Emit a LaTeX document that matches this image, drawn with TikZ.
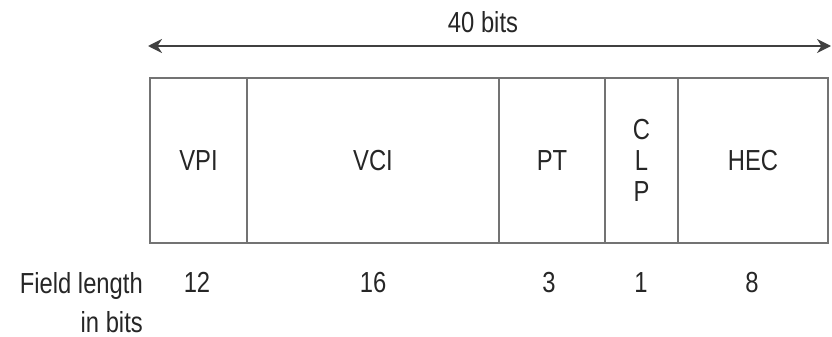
\documentclass[tikz,border=0pt]{standalone}
\usepackage{fontspec}
\setmainfont[FakeStretch=0.82]{Liberation Sans}
\usetikzlibrary{arrows.meta}
\begin{document}
\begin{tikzpicture}[x=1pt,y=-1pt,
  txt/.style={text=black!85,font=\fontsize{29}{31}\selectfont,inner sep=0pt},
  cell/.style={draw=black!55,line width=1.3pt,minimum height=165pt,inner sep=0pt,txt},
  span/.style={black!75,line width=2.2pt,{Stealth[length=14pt,width=14pt]}-{Stealth[length=14pt,width=14pt]}}]
\useasboundingbox (0,0) rectangle (832,337);
% cells
\node[cell,minimum width=97pt]  (vpi) at (198.5,160.5) {VPI};
\node[cell,minimum width=252pt] (vci) at (373,160.5) {VCI};
\node[cell,minimum width=106pt] (pt)  at (552,160.5) {PT};
\node[cell,minimum width=73pt,align=center] (clp) at (641.5,160.5) {C\\L\\P};
\node[cell,minimum width=150pt] (hec) at (753,160.5) {HEC};
% total width arrow
\coordinate (al) at (148,46);
\coordinate (ar) at (831,46);
\draw[span] (al) -- (ar);
\node[txt] (tot) at (483,22) {40 bits};
% field lengths
\node[txt,anchor=base east,align=right] (fl) at (143,332) {Field length\\[8pt]in bits};
\node[txt,anchor=base] (n1) at (197,292) {12};
\node[txt,anchor=base] (n2) at (373,292) {16};
\node[txt,anchor=base] (n3) at (549,292) {3};
\node[txt,anchor=base] (n4) at (641,292) {1};
\node[txt,anchor=base] (n5) at (752,292) {8};
\end{tikzpicture}
\end{document}
